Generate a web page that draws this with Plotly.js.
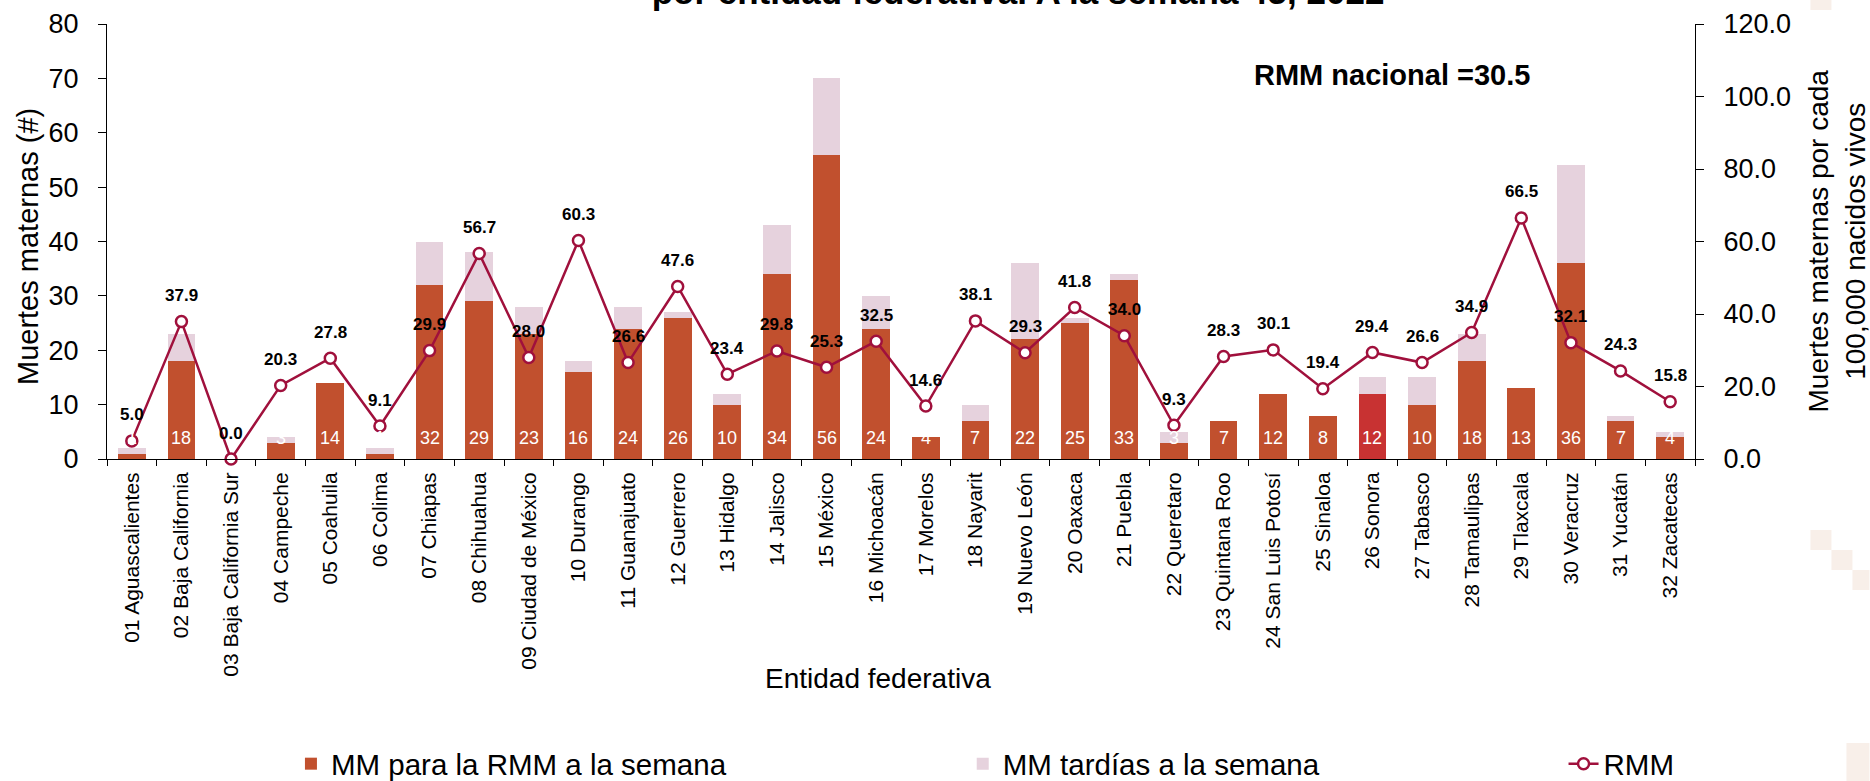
<!DOCTYPE html>
<html>
<head>
<meta charset="utf-8">
<script src="https://cdn.plot.ly/plotly-3.0.1.min.js"></script>
<style>html,body{margin:0;padding:0;background:#fff;}#chart{width:1870px;height:781px;}</style>
</head>
<body>
<div id="chart"></div>
<script>
// ---- data ----
var categories = ['01 Aguascalientes','02 Baja California','03 Baja California Sur','04 Campeche','05 Coahuila','06 Colima','07 Chiapas','08 Chihuahua','09 Ciudad de México','10 Durango','11 Guanajuato','12 Guerrero','13 Hidalgo','14 Jalisco','15 México','16 Michoacán','17 Morelos','18 Nayarit','19 Nuevo León','20 Oaxaca','21 Puebla','22 Queretaro','23 Quintana Roo','24 San Luis Potosí','25 Sinaloa','26 Sonora','27 Tabasco','28 Tamaulipas','29 Tlaxcala','30 Veracruz','31 Yucatán','32 Zacatecas'];
var mmRMM = [1,18,0,3,14,1,32,29,23,16,24,26,10,34,56,24,4,7,22,25,33,3,7,12,8,12,10,18,13,36,7,4];
var mmTardias = [1,5,0,1,0,1,8,9,5,2,4,1,2,9,14,6,0,3,14,1,1,2,0,0,0,3,5,5,0,18,1,1];
var rmm = [5.0,37.9,0.0,20.3,27.8,9.1,29.9,56.7,28.0,60.3,26.6,47.6,23.4,29.8,25.3,32.5,14.6,38.1,29.3,41.8,34.0,9.3,28.3,30.1,19.4,29.4,26.6,34.9,66.5,32.1,24.3,15.8];
var rmmNacional = 30.5;
var highlighted = '26 Sonora';

// ---- styles ----
var FONT = 'Liberation Sans, Arial, Helvetica, sans-serif';
var C_MAIN = '#C1502E', C_HI = '#C83232', C_LATE = '#E6D2DD', C_LINE = '#A0103C';

// plot-area pixel helpers (for layout decorations only)
var L = 107, R = 1695.5, T = 24, B = 459;
function px(x){ return (x - L) / (R - L); }
function py(y){ return (B - y) / (B - T); }

var traces = [
  {type:'bar', name:'MM para la RMM a la semana', x:categories, y:mmRMM,
   marker:{color:categories.map(function(c){return c===highlighted?C_HI:C_MAIN;})},
   legend:'legend', hoverinfo:'x+y'},
  {type:'bar', name:'MM tardías a la semana', x:categories, y:mmTardias,
   marker:{color:C_LATE}, legend:'legend2', hoverinfo:'x+y'},
  {type:'scatter', mode:'lines+markers', name:'RMM', x:categories, y:rmm, yaxis:'y2',
   line:{color:C_LINE, width:2.5},
   marker:{symbol:'circle', size:11, color:'#ffffff', line:{color:C_LINE, width:2.5}},
   cliponaxis:false, legend:'legend3'}
];

var annotations = [];
// RMM value labels
rmm.forEach(function(v,i){
  annotations.push({x:categories[i], y:v, xref:'x', yref:'y2', yshift:26, showarrow:false,
    text:v.toFixed(1), font:{family:FONT, size:17, color:'#000', weight:'bold'}});
});
// bar value labels (inside base)
mmRMM.forEach(function(v,i){
  if(v>0) annotations.push({x:categories[i], y:0, xref:'x', yref:'y', yshift:21, showarrow:false,
    text:String(v), font:{family:FONT, size:18, color:'#ffffff'}});
});
// national RMM
annotations.push({xref:'paper', yref:'paper', x:px(1252), y:py(75), xanchor:'left', yanchor:'middle',
  showarrow:false, text:'RMM nacional =' + rmmNacional.toFixed(1),
  font:{family:FONT, size:29, color:'#000', weight:'bold'}});
// axis titles
annotations.push({xref:'paper', yref:'paper', x:px(878), y:py(678), xanchor:'center', yanchor:'middle',
  showarrow:false, text:'Entidad federativa', font:{family:FONT, size:28, color:'#000'}});
annotations.push({xref:'paper', yref:'paper', x:px(28), y:py(247), xanchor:'center', yanchor:'middle',
  textangle:-90, showarrow:false, text:'Muertes maternas (#)', font:{family:FONT, size:29, color:'#000'}});
annotations.push({xref:'paper', yref:'paper', x:px(1837), y:py(241), xanchor:'center', yanchor:'middle',
  textangle:-90, showarrow:false, text:'Muertes maternas por cada<br>100,000 nacidos vivos',
  font:{family:FONT, size:28, color:'#000'}});

// faint background decoration squares on the right edge
var deco = [[1811,0,1832,10],[1811,530,1832,550],[1832,550,1853,570],[1853,570,1870,590],[1847,743,1870,781]];
var shapes = deco.map(function(d){
  return {type:'rect', xref:'paper', yref:'paper', x0:px(d[0]), x1:px(d[2]), y0:py(d[3]), y1:py(d[1]),
    line:{width:0}, fillcolor:'#F8EFE9', layer:'below'};
});

var legendBase = {orientation:'h', yanchor:'middle', xanchor:'left', y:py(764),
  font:{family:FONT, size:29.5, color:'#000'}, bgcolor:'rgba(0,0,0,0)'};

var layout = {
  width:1870, height:781,
  margin:{l:L, r:1870-R, t:T, b:781-B, pad:0, autoexpand:false},
  paper_bgcolor:'#ffffff', plot_bgcolor:'#ffffff',
  font:{family:FONT, color:'#000'},
  barmode:'stack', bargap:0.44,
  showlegend:true,
  title:{text:'por entidad federativa. A la semana 45, 2022', xref:'container', yref:'container',
    x:1018/1870, xanchor:'center', y:1-4/781, yanchor:'bottom',
    font:{family:FONT, size:35, color:'#000', weight:'bold'}},
  xaxis:{type:'category', range:[-0.5, categories.length-0.5], tickson:'boundaries',
    ticks:'outside', ticklen:6, tickcolor:'#000', showline:true, linecolor:'#000', linewidth:1,
    tickangle:-90, tickfont:{family:FONT, size:21, color:'#000'}, showgrid:false, ticklabelstandoff:4,
    automargin:false},
  yaxis:{range:[0,80], dtick:10, ticks:'outside', ticklen:8, tickcolor:'#000', showline:true,
    linecolor:'#000', linewidth:1, showgrid:false, zeroline:false,
    tickfont:{family:FONT, size:27, color:'#000'}, ticklabelstandoff:14, automargin:false},
  yaxis2:{range:[0,120], dtick:20, tickformat:'.1f', overlaying:'y', side:'right', ticks:'outside',
    ticklen:8, tickcolor:'#000', showline:true, linecolor:'#000', linewidth:1, showgrid:false,
    zeroline:false, tickfont:{family:FONT, size:27, color:'#000'}, ticklabelstandoff:14, automargin:false},
  legend:Object.assign({}, legendBase, {x:px(291)}),
  legend2:Object.assign({}, legendBase, {x:px(963)}),
  legend3:Object.assign({}, legendBase, {x:px(1564)}),
  annotations:annotations,
  shapes:shapes
};

Plotly.newPlot('chart', traces, layout, {displayModeBar:false, staticPlot:true});
</script>
</body>
</html>
